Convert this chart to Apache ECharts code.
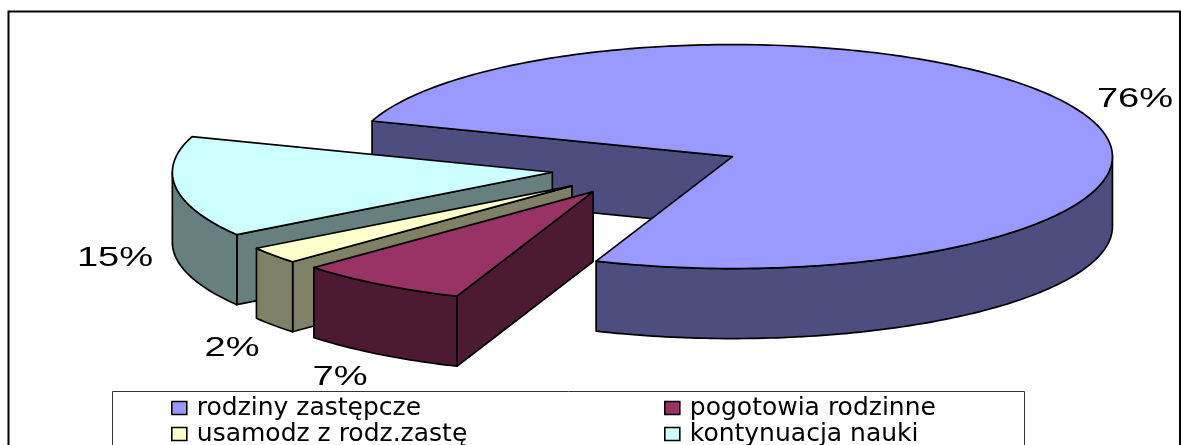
<!DOCTYPE html>
<html>
<head>
<meta charset="utf-8">
<style>html,body{margin:0;padding:0;background:#fff}#c{width:1181px;height:445px}</style>
<script src="https://cdn.jsdelivr.net/npm/echarts@6/dist/echarts.min.js"></script>
</head>
<body>
<div id="c"></div>
<script>
var categories = ['rodziny zastępcze', 'pogotowia rodzinne', 'usamodz z rodz.zastę', 'kontynuacja nauki'];
var values = [75.7, 7.3, 2.45, 14.55];
var topColors = ['#9999FF', '#993366', '#FFFFCC', '#CCFFFF'];
var wallColors = ['#4D4D80', '#4D1A33', '#808066', '#668080'];
var stacking = [2, 5, 4, 3];
var labelSpots = [[1135, 99], [340, 377], [232, 348], [115, 258]];

var CX = 646.5, CY = 168.5, RX = 380, RY = 112, DEPTH = 70, EXPLODE = 0.25, START = 198.5;
var total = values.reduce(function (a, b) { return a + b; }, 0);

function rad(d) { return d * Math.PI / 180; }

function sliceShape(index, api) {
  var before = 0;
  for (var i = 0; i < index; i++) before += values[i];
  var a0 = START + before / total * 360;
  var a1 = a0 + api.value(0) / total * 360;
  var mid = (a0 + a1) / 2;
  var ax = CX + EXPLODE * RX * Math.cos(rad(mid));
  var ay = CY + EXPLODE * RY * Math.sin(rad(mid));
  function rim(d, drop) {
    return [ax + RX * Math.cos(rad(d)), ay + RY * Math.sin(rad(d)) + (drop || 0)];
  }
  function arc(from, to, drop) {
    var pts = [], n = Math.max(2, Math.ceil(Math.abs(to - from)));
    for (var j = 0; j <= n; j++) pts.push(rim(from + (to - from) * j / n, drop));
    return pts;
  }
  function poly(points, fill, z2) {
    return { type: 'polygon', z2: z2, shape: { points: points },
      style: { fill: fill, stroke: '#000', lineWidth: 1.7, lineJoin: 'round' } };
  }
  var children = [];
  var wall = wallColors[index];
  if (Math.cos(rad(a0)) < 0) {
    var p = rim(a0);
    children.push(poly([[ax, ay], p, [p[0], p[1] + DEPTH], [ax, ay + DEPTH]], wall, 1));
  }
  if (Math.cos(rad(a1)) > 0) {
    var q = rim(a1);
    children.push(poly([[ax, ay], q, [q[0], q[1] + DEPTH], [ax, ay + DEPTH]], wall, 1));
  }
  [0, 360].forEach(function (k) {
    var lo = Math.max(a0, k), hi = Math.min(a1, k + 180);
    if (hi > lo) {
      children.push(poly(arc(lo, hi, 0).concat(arc(hi, lo, DEPTH)), wall, 2));
    }
  });
  children.push(poly([[ax, ay]].concat(arc(a0, a1, 0)), topColors[index], 3));
  children.push({
    type: 'text', z2: 4, x: labelSpots[index][0], y: labelSpots[index][1], scaleX: 1.36,
    style: { text: Math.round(api.value(0) / total * 100) + '%', fill: '#000',
      font: '28px "Liberation Sans"', align: 'center', verticalAlign: 'middle' }
  });
  return { type: 'group', children: children };
}

var series = categories.map(function (name, i) {
  return {
    type: 'custom', name: name, coordinateSystem: 'none', z: stacking[i], silent: true,
    data: [[values[i]]], itemStyle: { color: topColors[i] },
    renderItem: function (params, api) { return sliceShape(i, api); }
  };
});

function legendColumn(left, items) {
  return {
    show: true, orient: 'vertical', left: left, top: 395, height: 100, padding: 0, itemGap: 0,
    itemWidth: 15, itemHeight: 13, icon: 'rect', selectedMode: false, data: items,
    itemStyle: { borderColor: '#000', borderWidth: 1.6 },
    textStyle: { fontFamily: '"DejaVu Sans"', fontSize: 25, color: '#000', padding: [0, 0, 0, 5], lineHeight: 26 }
  };
}

var chart = echarts.init(document.getElementById('c'), null, { renderer: 'canvas' });
chart.setOption({
  animation: false,
  backgroundColor: '#fff',
  legend: [
    legendColumn(171, [categories[0], categories[2]]),
    legendColumn(664, [categories[1], categories[3]])
  ],
  graphic: [
    { type: 'rect', z: 0, silent: true, shape: { x: 8.5, y: 11.5, width: 1171.5, height: 445 },
      style: { fill: 'none', stroke: '#000', lineWidth: 2 } },
    { type: 'rect', z: 1, silent: true, shape: { x: 112.5, y: 391.5, width: 912, height: 60 },
      style: { fill: '#fff', stroke: '#333', lineWidth: 1 } }
  ],
  series: series
});
</script>
</body>
</html>
